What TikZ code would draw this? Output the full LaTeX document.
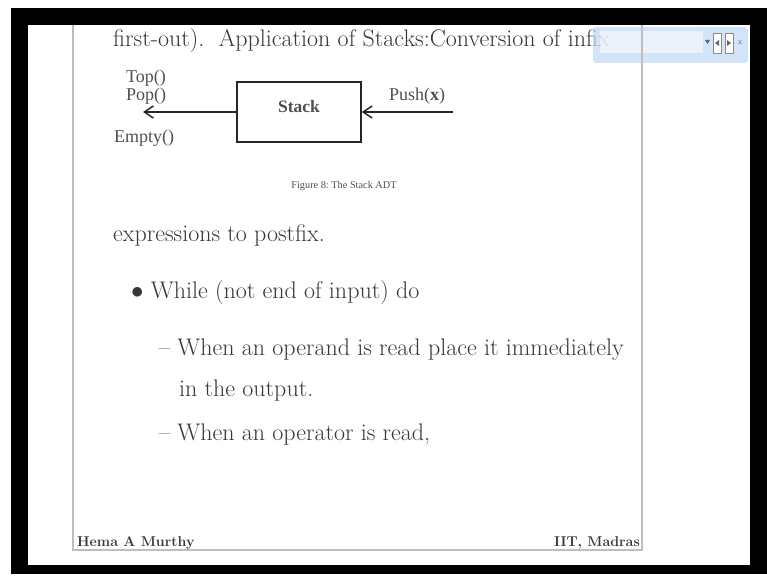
\documentclass[tikz,border=0pt]{standalone}
\usepackage{fontspec}
\usepackage{tikz}
\usetikzlibrary{arrows.meta, positioning, calc}
\newfontfamily\figfont{Liberation Serif}
\definecolor{bodygray}{RGB}{55,55,55}
\definecolor{figgray}{RGB}{80,80,80}
\definecolor{framegray}{RGB}{190,190,190}
\definecolor{barblue}{RGB}{198,220,246}

\begin{document}
\begin{tikzpicture}[
    x=1pt, y=-1pt,
    body/.style={anchor=base west, inner sep=0pt, text=bodygray, font=\fontsize{24}{28}\selectfont},
    figlbl/.style={anchor=base west, inner sep=0pt, text=figgray, font=\figfont\fontsize{18}{20}\selectfont},
    foot/.style={inner sep=0pt, text=bodygray, font=\fontsize{14.2}{16}\selectfont\bfseries},
    stackbox/.style={rectangle, draw=black!85, line width=1.5pt, minimum width=124pt, minimum height=60pt},
    arrow/.style={-{Straight Barb[length=9pt, width=12pt]}, line width=1.5pt, draw=black!85}
]
    \useasboundingbox (0,0) rectangle (767,575);
    % screen and page
    \fill[white] (0,0) rectangle (767,575);
    \fill[black] (11,8) rectangle (767,574);
    \fill[white] (28,25) rectangle (750,565);

    % text above the figure
    \node[body] (line1) at (113,47) {first-out).\ \ Application of Stacks:Conversion of infix};

    % the figure
    \node[stackbox] (stack) at (299,112) {};
    \node[figlbl, anchor=base, font=\figfont\fontsize{17.5}{20}\selectfont\bfseries] (stacklbl) at (stack.center) {Stack};
    \node[figlbl] (top) at (126,83) {Top()};
    \node[figlbl] (pop) at (126,101) {Pop()};
    \node[figlbl] (empty) at (114,142) {Empty()};
    \node[figlbl] (push) at (389,100) {Push(\textbf{x})};
    \coordinate (popend) at (143,112);
    \coordinate (pushstart) at (453,112);
    \draw[arrow] (stack.west) -- (popend);
    \draw[arrow] (pushstart) -- (stack.east);
    \node[figlbl, anchor=base, font=\figfont\fontsize{10.3}{12}\selectfont] (caption) at (344,188) {Figure 8:\ The Stack ADT};

    % text below the figure
    \node[body] (line2) at (113,241) {expressions to postfix.};
    \node[body] (item1) at (131,298) {$\bullet$ While (not end of input) do};
    \node[body] (sub1) at (159,355) {-- When an operand is read place it immediately};
    \node[body] (sub1b) at (179,396) {in the output.};
    \node[body] (sub2) at (159,440) {-- When an operator is read,};

    % footer
    \node[foot, anchor=base west] (author) at (77,546) {Hema A Murthy};
    \node[foot, anchor=base east] (inst) at (640,546) {IIT, Madras};

    % find bar
    \fill[barblue, opacity=0.75, rounded corners=3pt] (593,27) rectangle (748,63);
    \fill[white, opacity=0.55] (600,31) rectangle (703,53);
    \fill[black!60] (705,40) -- (710,40) -- (707.5,44) -- cycle;
    \filldraw[fill=white, draw=black!45, line width=0.8pt] (713,33) rectangle (721,53);
    \filldraw[fill=white, draw=black!45, line width=0.8pt] (725,33) rectangle (733,53);
    \fill[black!60] (719,40) -- (719,46) -- (715,43) -- cycle;
    \fill[black!60] (727,40) -- (727,46) -- (731,43) -- cycle;
    \node[inner sep=0pt, text=black!60, font=\fontsize{8}{9}\selectfont] (closex) at (740,43) {x};

    % slide frame
    \draw[framegray, line width=1.5pt] (73,25) -- (73,550) -- (642,550) -- (642,25);
\end{tikzpicture}
\end{document}
